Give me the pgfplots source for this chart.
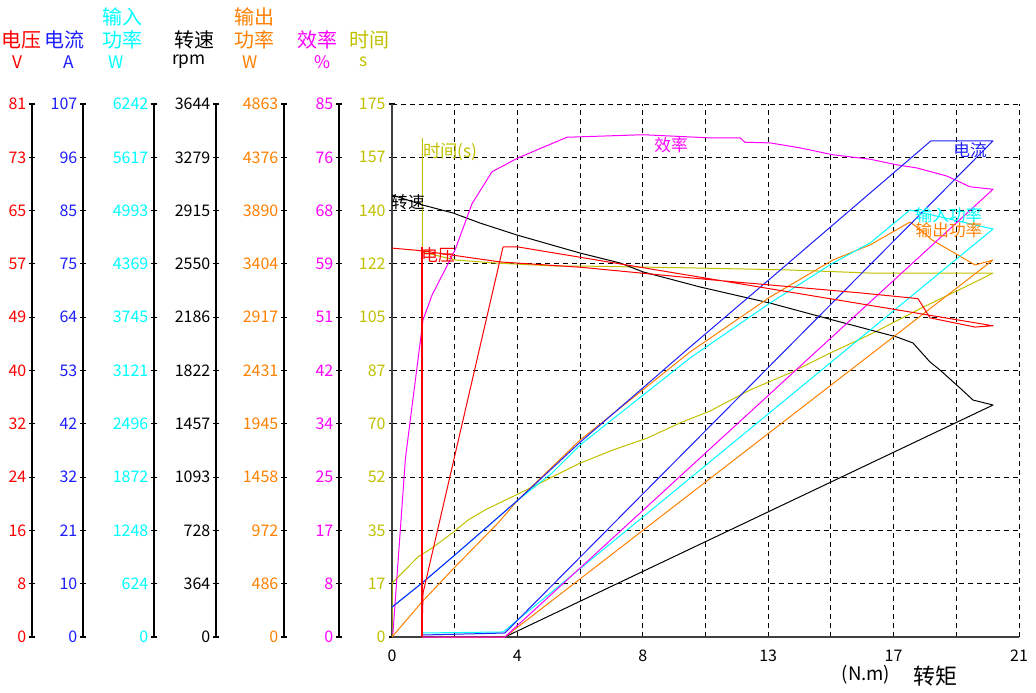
\documentclass[border=0pt]{standalone}
\usepackage{pgfplots}
\pgfplotsset{compat=1.18}
\usepackage{fontspec}
\setmainfont{Noto Sans CJK SC}
\definecolor{cV}{RGB}{255,0,0}
\definecolor{cA}{RGB}{30,30,255}
\definecolor{cPin}{RGB}{0,255,255}
\definecolor{cN}{RGB}{0,0,0}
\definecolor{cPout}{RGB}{255,128,0}
\definecolor{cEff}{RGB}{255,0,255}
\definecolor{cT}{RGB}{192,192,0}
\pgfplotsset{
  base/.style={at={(294pt,-477.75pt)}, anchor=south west, scale only axis,
    width=470.25pt, height=399.75pt, xmin=0, xmax=21, ymin=0},
  data/.style={base, axis lines=none, ticks=none},
  spine/.style={at={(#1,-477.75pt)}, anchor=south west, scale only axis,
    width=1pt, height=399.75pt, xmin=0, xmax=1, ymin=0, ymax=10,
    ytick={0,...,10}, axis y line=left, axis x line=none,
    y axis line style={-, line width=0.9pt},
    tick align=center, major tick length=4.5pt,
    ytick style={line width=0.8pt, black},
    yticklabel style={font=\fontsize{12}{12}\selectfont, anchor=east, xshift=1.5pt}},
  curve/.style={line width=0.75pt, line join=round},
}
\begin{document}
\begin{tikzpicture}[x=0.75pt,y=-0.75pt]
\useasboundingbox (0,0) rectangle (1036,693);

% ---- left spines ----
\begin{axis}[spine=24pt, yticklabels={0,8,16,24,32,40,49,57,65,73,81}, yticklabel style={text=cV}]
\end{axis}
\begin{axis}[spine=62.25pt, yticklabels={0,10,21,32,42,53,64,75,85,96,107}, yticklabel style={text=cA}]
\end{axis}
\begin{axis}[spine=115.5pt, yticklabels={0,624,1248,1872,2496,3121,3745,4369,4993,5617,6242}, yticklabel style={text=cPin}]
\end{axis}
\begin{axis}[spine=162pt, yticklabels={0,364,728,1093,1457,1822,2186,2550,2915,3279,3644}, yticklabel style={text=black}]
\end{axis}
\begin{axis}[spine=213pt, yticklabels={0,486,972,1458,1945,2431,2917,3404,3890,4376,4863}, yticklabel style={text=cPout}]
\end{axis}
\begin{axis}[spine=254.25pt, yticklabels={0,8,17,25,34,42,51,59,68,76,85}, yticklabel style={text=cEff}]
\end{axis}

% ---- main axis (time scale) ----
\begin{axis}[base, ymax=175,
  axis x line*=bottom, axis y line*=left,
  axis line style={-, line width=1.3pt, black!75},
  xtick={0,2.1,4.2,6.3,8.4,10.5,12.6,14.7,16.8,18.9,21},
  xticklabels={0,,4,,8,,13,,17,,21},
  ytick={0,17.5,35,52.5,70,87.5,105,122.5,140,157.5,175},
  yticklabels={0,17,35,52,70,87,105,122,140,157,175},
  grid=major, grid style={black, line width=0.75pt, dash pattern=on 3.75pt off 3pt},
  tick align=center, major tick length=4.5pt,
  xtick style={draw=none}, ytick style={black, line width=0.8pt},
  xticklabel style={font=\fontsize{12}{12}\selectfont, text=black, yshift=-4pt},
  yticklabel style={font=\fontsize{12}{12}\selectfont, text=cT, anchor=east, xshift=1pt},
]
\end{axis}

% ---- data: time (s) ----
\begin{axis}[data, ymax=175]
\addplot[curve, cT] coordinates {(0,0) (0,17.7) (0.44,22.0) (0.87,26.3) (1.34,29.2) (2.01,34.1) (2.55,38.4) (3.11,41.7) (4.02,46.0) (4.69,49.2) (5.36,52.5) (6.30,57.1) (7.40,61.4) (8.54,65.3) (9.65,70.3) (10.65,74.2) (11.99,81.1) (13.33,86.7) (14.67,93.2) (16.11,99.8) (17.79,108.3) (19.46,116.2) (20.13,119.5) (16.01,119.5) (13.33,120.5) (9.98,121.2) (6.30,121.8) (5.46,121.8) (3.45,122.8) (2.11,123.8) (1.02,126.4) (1.02,163.8)};
\end{axis}
% ---- data: speed (rpm) ----
\begin{axis}[data, ymax=3644]
\addplot[curve, cN] coordinates {(0,3022) (1.04,2953) (2.04,2899) (2.95,2830) (4.19,2748) (6.30,2625) (7.64,2557) (8.41,2496) (10.32,2393) (12.66,2283) (14.77,2167) (16.91,2051) (17.45,2010) (18.02,1880) (18.35,1826) (19.02,1703) (19.46,1620) (20.13,1586) (3.78,0) (1.0,0)};
\end{axis}
% ---- data: output power (W) ----
\begin{axis}[data, ymax=4863]
\addplot[curve, cPout] coordinates {(0,0) (1.0,319) (2.11,639) (3.55,1040) (4.22,1250) (5.36,1551) (6.30,1797) (9.98,2600) (12.66,3102) (14.77,3440) (16.01,3577) (17.35,3786) (17.62,3732) (18.09,3622) (19.53,3394) (20.13,3440) (3.78,0) (1.0,0)};
\end{axis}
% ---- data: input power (W) ----
\begin{axis}[data, ymax=6242]
\addplot[curve, cPin] coordinates {(0,351) (1.0,632) (2.11,960) (4.22,1604) (5.36,1921) (6.30,2249) (9.98,3267) (12.66,3911) (14.77,4380) (16.01,4614) (17.35,5001) (20.13,4778) (3.72,59) (1.0,47)};
\end{axis}
% ---- data: efficiency (%) ----
\begin{axis}[data, ymax=85]
\addplot[curve, cEff] coordinates {(0.03,0.5) (0.45,28.5) (1.04,50.6) (1.34,54.5) (2.11,61.7) (2.68,69.1) (3.35,74.2) (4.22,76.4) (5.46,78.9) (5.86,79.7) (8.41,80.1) (10.65,79.6) (11.66,79.6) (11.82,78.9) (12.66,78.8) (13.67,78.0) (14.77,76.9) (16.01,76.2) (16.91,75.3) (17.58,74.8) (18.59,73.5) (19.36,71.8) (20.13,71.4) (3.78,0) (1.0,0)};
\end{axis}
% ---- data: current (A) ----
\begin{axis}[data, ymax=107]
\addplot[curve, cA] coordinates {(0,6.0) (1.0,10.8) (2.11,16.5) (4.22,27.5) (6.30,39.1) (9.98,58.2) (12.66,71.9) (18.05,99.6) (20.13,99.6) (3.78,0.8) (1.0,0.4)};
\end{axis}
% ---- data: voltage (V) ----
\begin{axis}[data, ymax=81]
\addplot[curve, cV] coordinates {(0,59.1) (1.0,58.7) (3.62,57.0) (6.30,56.2) (10.65,54.3) (15.67,52.3) (17.45,51.5) (17.62,51.4) (18.02,48.5) (19.53,47.1) (20.13,47.3) (4.19,59.3) (3.72,59.3) (1.04,6.7) (1.0,0)};
\addplot[cV, line width=1.5pt] coordinates {(1.0,0) (1.0,59.3)};
\end{axis}

% ---- curve labels ----
\begin{scope}[font=\fontsize{12.5}{12.5}\selectfont, inner sep=0pt]
\node[text=cT, anchor=west, font=\fontsize{13}{13}\selectfont] at (423,152) {时间(s)};
\node[text=black] at (408,202) {转速};
\node[text=cV] at (438,255) {电压};
\node[text=cEff] at (671,145) {效率};
\node[text=cA] at (970,150) {电流};
\node[text=cPin] at (949,215) {输入功率};
\node[text=cPout] at (949,230) {输出功率};
\end{scope}

% ---- headers ----
\begin{scope}[font=\fontsize{15}{15}\selectfont, inner sep=0pt]
\node[text=cV, anchor=west] at (1,40) {电压};
\node[text=cA] at (65,40) {电流};
\node[text=cPin] at (122,17) {输入};
\node[text=cPin] at (122,40) {功率};
\node[text=black] at (194,40) {转速};
\node[text=cPout] at (254,17) {输出};
\node[text=cPout] at (254,40) {功率};
\node[text=cEff] at (317,40) {效率};
\node[text=cT] at (369,40) {时间};
\end{scope}
\begin{scope}[font=\fontsize{13}{13}\selectfont, inner sep=0pt]
\node[text=cV] at (17,62) {V};
\node[text=cA] at (69,62) {A};
\node[text=cPin] at (116,62) {W};
\node[text=black] at (189,62) {rpm};
\node[text=cPout] at (250,62) {W};
\node[text=cEff] at (322,62) {\%};
\node[text=cT] at (364,62) {s};
\end{scope}
\node[font=\fontsize{14}{14}\selectfont, inner sep=0pt] at (866,675) {(N.m)};
\node[font=\fontsize{16.5}{16.5}\selectfont, inner sep=0pt] at (935,676) {转矩};
\end{tikzpicture}
\end{document}
